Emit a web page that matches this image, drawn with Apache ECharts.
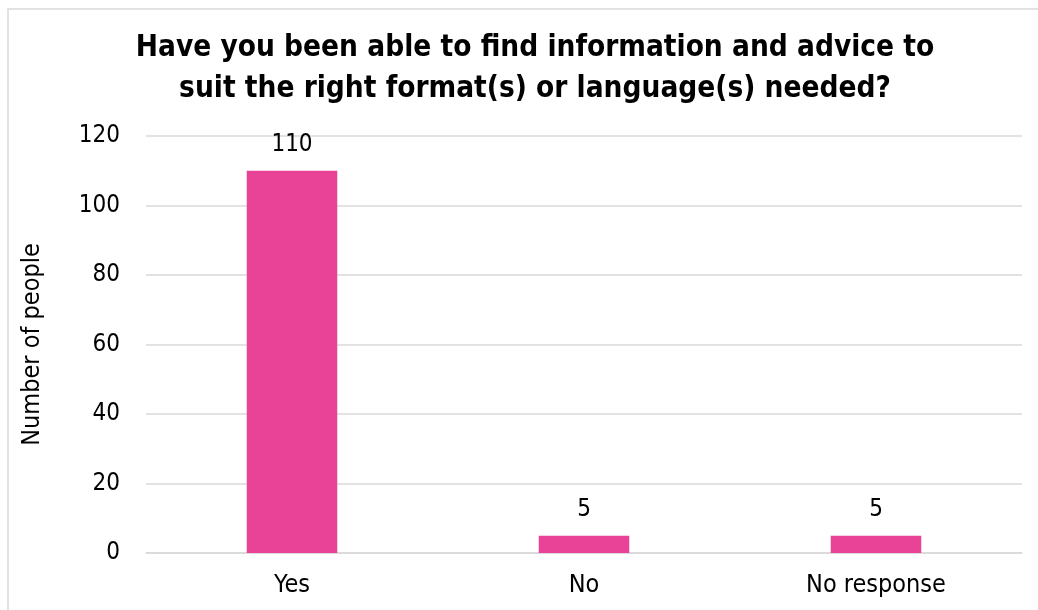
<!DOCTYPE html>
<html>
<head>
<meta charset="utf-8">
<script src="https://cdn.jsdelivr.net/npm/echarts@6/dist/echarts.min.js"></script>
<style>
  html, body { margin: 0; padding: 0; background: #ffffff; }
  #chart { width: 1038px; height: 610px; }
</style>
</head>
<body>
<div id="chart"></div>
<script>
// Survey answers and counts
const categories = ['Yes', 'No', 'No response'];
const counts = [110, 5, 5];
const yTicks = { min: 0, max: 120, interval: 20 };

const FONT = '"DejaVu Sans Condensed", "DejaVu Sans", sans-serif';
const chart = echarts.init(document.getElementById('chart'), null, { renderer: 'canvas' });

chart.setOption({
  backgroundColor: '#ffffff',
  animation: false,
  title: {
    text: 'Have you been able to find information and advice to\nsuit the right format(s) or language(s) needed?',
    left: 530,
    top: 23,
    textAlign: 'center',
    textStyle: {
      fontFamily: FONT,
      fontWeight: 'bold',
      fontSize: 29.5,
      lineHeight: 41,
      color: '#000000'
    }
  },
  graphic: [{
    type: 'rect',
    shape: { x: 8, y: 9, width: 1060, height: 640 },
    style: { fill: 'none', stroke: '#d9d9d9', lineWidth: 1.5 },
    silent: true,
    z: -1
  }],
  grid: { left: 146, right: 16, top: 136, bottom: 57, containLabel: false },
  xAxis: {
    type: 'category',
    data: categories,
    axisLine: { show: true, lineStyle: { color: '#d9d9d9', width: 1.5 } },
    axisTick: { show: false },
    axisLabel: { fontFamily: FONT, fontSize: 25, color: '#000000', margin: 20 }
  },
  yAxis: {
    type: 'value',
    min: yTicks.min,
    max: yTicks.max,
    interval: yTicks.interval,
    name: 'Number of people',
    nameLocation: 'middle',
    nameGap: 101,
    nameTextStyle: { fontFamily: FONT, fontSize: 25, color: '#000000' },
    axisLine: { show: false },
    axisTick: { show: false },
    splitLine: { lineStyle: { color: '#d9d9d9', width: 1.5 } },
    axisLabel: { fontFamily: FONT, fontSize: 24, color: '#000000', margin: 26 }
  },
  series: [{
    type: 'bar',
    data: counts,
    barWidth: '31%',
    itemStyle: { color: '#E84396' },
    label: {
      show: true,
      position: 'top',
      distance: 14,
      fontFamily: FONT,
      fontSize: 24,
      color: '#000000'
    }
  }]
});
</script>
</body>
</html>
